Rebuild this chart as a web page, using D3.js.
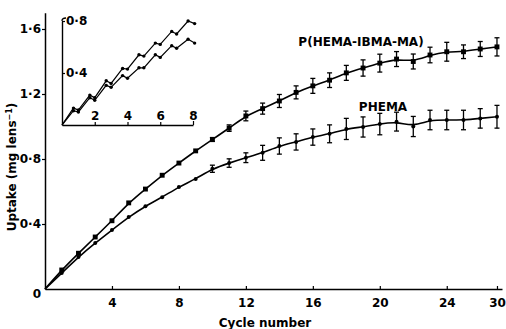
<!DOCTYPE html>
<html>
<head>
<meta charset="utf-8">
<script src="https://cdn.jsdelivr.net/npm/d3@7"></script>
<style>
  body { margin: 0; background: #fff; }
  svg text { font-family: "DejaVu Sans", sans-serif; font-weight: bold; fill: #000; }
</style>
</head>
<body>
<div id="chart"></div>
<script>
// main chart data
const cycles = [1,2,3,4,5,6,7,8,9,10,11,12,13,14,15,16,17,18,19,20,21,22,23,24,25,26,27];
const hemaIbma = [0.117,0.22,0.32,0.42,0.53,0.615,0.70,0.775,0.85,0.92,0.99,1.065,1.11,1.157,1.21,1.25,1.285,1.33,1.36,1.39,1.415,1.40,1.44,1.46,1.46,1.477,1.49];
const hemaIbmaErr = [0,0,0,0,0,0,0,0,0,0.012,0.02,0.03,0.034,0.04,0.04,0.046,0.045,0.046,0.05,0.055,0.046,0.046,0.048,0.058,0.042,0.046,0.056];
const phema = [0.098,0.197,0.283,0.363,0.443,0.51,0.565,0.628,0.677,0.74,0.775,0.808,0.838,0.88,0.905,0.935,0.955,0.985,0.997,1.015,1.03,1.0,1.04,1.04,1.04,1.05,1.06];
const phemaErr = [0,0,0,0,0,0,0,0,0,0.022,0.026,0.03,0.046,0.05,0.05,0.05,0.055,0.065,0.062,0.066,0.058,0.062,0.06,0.06,0.06,0.06,0.07];

const xTickValues = [4,8,12,16,20,24,27];
const xTickLabels = ["4","8","12","16","20","24","30"];
const yTickValues = [0,0.4,0.8,1.2,1.6];
const yTickLabels = ["0","0·4","0·8","1·2","1·6"];

// inset: uptake within the first 8 cycles
const insetT = [0,0.7,1.0,1.7,2.0,2.7,3.0,3.7,4.0,4.7,5.0,5.7,6.0,6.7,7.0,7.7,8.1];
const insetUpper = [0,0.13,0.115,0.23,0.21,0.34,0.32,0.435,0.43,0.54,0.53,0.63,0.62,0.72,0.70,0.80,0.78];
const insetLower = [0,0.11,0.10,0.21,0.19,0.305,0.29,0.38,0.36,0.44,0.44,0.54,0.52,0.61,0.59,0.66,0.63];
const insetXTicks = [2,4,6,8];
const insetYTicks = [0.4,0.8];
const insetYLabels = ["0·4","0·8"];

const seriesNames = ["P(HEMA-IBMA-MA)","PHEMA"];

const W = 506, H = 329;
const svg = d3.select("#chart").append("svg")
  .attr("width", W).attr("height", H);

const x = d3.scaleLinear().domain([0, 27.3]).range([45, 502]);
const y = d3.scaleLinear().domain([0, 1.7]).range([289, 12.75]);

// axes
const xAxis = d3.axisBottom(x).tickValues(xTickValues)
  .tickFormat((d, i) => xTickLabels[i]).tickSizeInner(-3).tickSizeOuter(0).tickPadding(9);
const gx = svg.append("g").attr("transform", `translate(0,${y(0)})`).call(xAxis);

const yAxis = d3.axisLeft(y).tickValues(yTickValues)
  .tickFormat((d, i) => yTickLabels[i]).tickSizeInner(3).tickSizeOuter(0).tickPadding(1);
const gy = svg.append("g").attr("transform", `translate(${x(0)},0)`).call(yAxis);

[gx, gy].forEach(g => {
  g.select(".domain").attr("stroke", "#000").attr("stroke-width", 1.5);
  g.selectAll(".tick line").attr("stroke", "#000").attr("stroke-width", 1.2);
  g.selectAll(".tick text").style("font-size", "12px");
});
gy.selectAll(".tick").filter(d => d === 0).select("line").remove();
gy.selectAll(".tick").filter(d => d === 0).select("text").attr("dy", "0.7em").attr("x", -4);

// curves
const line = d3.line().x(d => x(d[0])).y(d => y(d[1])).curve(d3.curveBasis);
const upperPts = [[0,0]].concat(cycles.map((c, i) => [c, hemaIbma[i]]));
const lowerPts = [[0,0]].concat(cycles.map((c, i) => [c, phema[i]]));

svg.append("path").datum(upperPts).attr("d", line)
  .attr("fill", "none").attr("stroke", "#000").attr("stroke-width", 1.6);
svg.append("path").datum(lowerPts).attr("d", line)
  .attr("fill", "none").attr("stroke", "#000").attr("stroke-width", 1.6);

// error bars
function errBars(vals, errs) {
  const g = svg.append("g").attr("stroke", "#000").attr("stroke-width", 1.3);
  cycles.forEach((c, i) => {
    if (!errs[i]) return;
    const cx = x(c), y1 = y(vals[i] + errs[i]), y2 = y(vals[i] - errs[i]);
    g.append("line").attr("x1", cx).attr("x2", cx).attr("y1", y1).attr("y2", y2);
    g.append("line").attr("x1", cx - 2.5).attr("x2", cx + 2.5).attr("y1", y1).attr("y2", y1);
    g.append("line").attr("x1", cx - 2.5).attr("x2", cx + 2.5).attr("y1", y2).attr("y2", y2);
  });
}
errBars(hemaIbma, hemaIbmaErr);
errBars(phema, phemaErr);

// markers
svg.append("g").selectAll("path").data(cycles).join("path")
  .attr("d", d3.symbol(d3.symbolSquare, 24))
  .attr("transform", (c, i) => `translate(${x(c)},${y(hemaIbma[i])})`)
  .attr("fill", "#000");
svg.append("g").selectAll("circle").data(cycles).join("circle")
  .attr("cx", c => x(c)).attr("cy", (c, i) => y(phema[i]))
  .attr("r", 2).attr("fill", "#000");

// series labels
svg.append("text").attr("x", 361).attr("y", 46).attr("text-anchor", "middle")
  .style("font-size", "12px").text(seriesNames[0]);
svg.append("text").attr("x", 383).attr("y", 111).attr("text-anchor", "middle")
  .style("font-size", "12px").text(seriesNames[1]);

// axis titles
svg.append("text").attr("x", 265).attr("y", 327).attr("text-anchor", "middle")
  .style("font-size", "12px").text("Cycle number");
const yt = svg.append("text").attr("transform", "translate(16,167) rotate(-90)")
  .attr("text-anchor", "middle").style("font-size", "12px");
yt.append("tspan").text("Uptake (mg lens");
yt.append("tspan").attr("dy", -4).style("font-size", "8px").text("−1");
yt.append("tspan").attr("dy", 4).text(")");

// inset
const xi = d3.scaleLinear().domain([0, 8]).range([62, 193]);
const yi = d3.scaleLinear().domain([0, 0.8]).range([125, 21]);
const inset = svg.append("g");

const ixAxis = d3.axisTop(xi).tickValues(insetXTicks).tickSizeInner(3).tickSizeOuter(0).tickPadding(2);
const giX = inset.append("g").attr("transform", `translate(0,${yi(0)})`).call(ixAxis);
const iyAxis = d3.axisRight(yi).tickValues(insetYTicks)
  .tickFormat((d, i) => insetYLabels[i]).tickSizeInner(3).tickSizeOuter(0).tickPadding(1);
const giY = inset.append("g").attr("transform", `translate(${xi(0)},0)`).call(iyAxis);
[giX, giY].forEach(g => {
  g.select(".domain").attr("stroke", "#000").attr("stroke-width", 1.4);
  g.selectAll(".tick line").attr("stroke", "#000").attr("stroke-width", 1.2);
  g.selectAll(".tick text").style("font-size", "12px");
});
giX.selectAll(".tick").filter(d => d === 8).select("line").attr("y2", -4);
// little hook at the top of the inset y axis
inset.append("path")
  .attr("d", `M${xi(0)},${yi(0.8)} Q${xi(0)},${yi(0.8) - 3} ${xi(0) + 4},${yi(0.8) - 3}`)
  .attr("fill", "none").attr("stroke", "#000").attr("stroke-width", 1.3);

const iline = d3.line().x(d => xi(d[0])).y(d => yi(d[1]));
[insetUpper, insetLower].forEach(vals => {
  const pts = insetT.map((t, i) => [t, vals[i]]);
  inset.append("path").datum(pts).attr("d", iline)
    .attr("fill", "none").attr("stroke", "#000").attr("stroke-width", 1.2);
  inset.append("g").selectAll("circle").data(pts.slice(1)).join("circle")
    .attr("cx", d => xi(d[0])).attr("cy", d => yi(d[1]))
    .attr("r", 1.7).attr("fill", "#000");
});
</script>
</body>
</html>
